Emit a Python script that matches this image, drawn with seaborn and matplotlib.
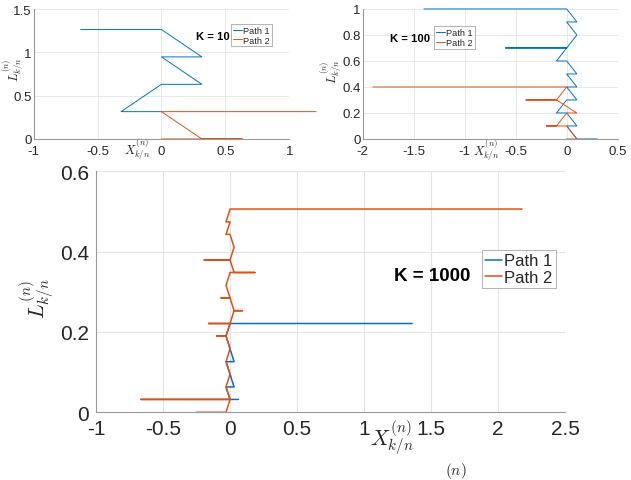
import numpy as np
import pandas as pd
import matplotlib
matplotlib.use("Agg")
import matplotlib.pyplot as plt
import seaborn as sns

# K = 10
x1_k10 = [-0.632, 0, 0.316, 0, 0.316, 0, -0.316, 0]
l1_k10 = [1.265, 1.265, 0.949, 0.949, 0.632, 0.632, 0.316, 0.316]
x2_k10 = [0, 0.632, 0.316, 0, 1.21]
l2_k10 = [0, 0, 0, 0.316, 0.316]

# K = 100
x1_k100 = [-1.4, 0, 0.1, 0, 0.1, 0, -0.6, 0, -0.1, 0, 0.1, 0, 0.1, 0, 0.1, 0,
           -0.1, 0, 0.1, 0, 0.1, 0.3]
l1_k100 = [1.0, 1.0, 0.9, 0.9, 0.8, 0.7, 0.7, 0.7, 0.6, 0.6, 0.5, 0.5, 0.4, 0.4,
           0.3, 0.3, 0.2, 0.2, 0.1, 0.1, 0.0, 0.0]
x2_k100 = [-1.9, 0, -0.1, -0.4, -0.1, 0.1, 0, -0.1, -0.2, 0, 0.1, 0]
l2_k100 = [0.4, 0.4, 0.3, 0.3, 0.3, 0.2, 0.2, 0.1, 0.1, 0.1, 0.0, 0.0]

# K = 1000
x1_k1000 = [0.063, 0, -0.03, 0.03, 0, -0.03, 0.03, 0, -0.03, 0, 1.358]
l1_k1000 = [0.032, 0.032, 0.063, 0.063, 0.095, 0.126, 0.126, 0.158, 0.19, 0.221, 0.221]
x2_k1000 = [-0.25, -0.03, 0, -0.665, 0, -0.03, 0, -0.03, 0, -0.03, -0.1, -0.03,
            0, -0.16, 0, 0.03, 0.092, 0.03, 0, -0.067, 0, -0.03, 0, 0.186, 0.03,
            0, -0.193, 0, 0.03, 0, -0.03, 0, -0.03, 0, 2.177]
l2_k1000 = [0, 0, 0.032, 0.032, 0.032, 0.063, 0.095, 0.126, 0.158, 0.19, 0.19, 0.19,
            0.221, 0.221, 0.221, 0.253, 0.253, 0.253, 0.285, 0.285, 0.285, 0.316, 0.348,
            0.348, 0.348, 0.379, 0.379, 0.379, 0.411, 0.443, 0.443, 0.474, 0.474, 0.506,
            0.506]

series_names = ["Path 1", "Path 2"]
k_labels = ["K = 10", "K = 100", "K = 1000"]

xticks_k10 = [-1, -0.5, 0, 0.5, 1]
xticklabels_k10 = ["-1", "-0.5", "0", "0.5", "1"]
yticks_k10 = [0, 0.5, 1, 1.5]
yticklabels_k10 = ["0", "0.5", "1", "1.5"]

xticks_k100 = [-2, -1.5, -1, -0.5, 0, 0.5]
xticklabels_k100 = ["-2", "-1.5", "-1", "-0.5", "0", "0.5"]
yticks_k100 = [0, 0.2, 0.4, 0.6, 0.8, 1]
yticklabels_k100 = ["0", "0.2", "0.4", "0.6", "0.8", "1"]

xticks_k1000 = [-1, -0.5, 0, 0.5, 1, 1.5, 2, 2.5]
xticklabels_k1000 = ["-1", "-0.5", "0", "0.5", "1", "1.5", "2", "2.5"]
yticks_k1000 = [0, 0.2, 0.4, 0.6]
yticklabels_k1000 = ["0", "0.2", "0.4", "0.6"]

blue = "#0072BD"
orange = "#D95319"
axis_gray = "#9a9a9a"

sns.set_style("white")
plt.rcParams["font.family"] = ["Liberation Sans", "DejaVu Sans"]
plt.rcParams["mathtext.fontset"] = "cm"

fig = plt.figure(figsize=(6.31, 4.81), dpi=100)
ax_a = fig.add_axes([0.0534, 0.709, 0.405, 0.2697])
ax_b = fig.add_axes([0.5748, 0.709, 0.4041, 0.2703])
ax_c = fig.add_axes([0.1521, 0.1408, 0.7437, 0.501])

ylab = r"$L^{(n)}_{k/n}$"
xlab = r"$X^{(n)}_{k/n}$"

panels = [
    (ax_a, x1_k10, l1_k10, x2_k10, l2_k10, (-1, 1), (0, 1.5), xticks_k10, xticklabels_k10,
     yticks_k10, yticklabels_k10, k_labels[0], 0.7, 9.5, 9, 6.6,
     (0.635, 0.794), (0.772, 0.887), (0.404, -0.07), (-0.08, 0.54), 3),
    (ax_b, x1_k100, l1_k100, x2_k100, l2_k100, (-2, 0.5), (0, 1), xticks_k100, xticklabels_k100,
     yticks_k100, yticklabels_k100, k_labels[1], 0.7, 9.5, 9, 6.6,
     (0.107, 0.777), (0.28, 0.869), (0.483, -0.077), (-0.125, 0.523), 3),
    (ax_c, x1_k1000, l1_k1000, x2_k1000, l2_k1000, (-1, 2.5), (0, 0.6), xticks_k1000,
     xticklabels_k1000, yticks_k1000, yticklabels_k1000, k_labels[2], 1.1, 15, 15.5, 12,
     (0.635, 0.566), (0.8225, 0.673), (0.631, -0.102), (-0.126, 0.474), 4),
]

for (ax, xa, la, xb, lb, xlim, ylim, xt, xtl, yt, ytl, ktxt, lw, tfs, lfs, legfs,
     kpos, legpos, xlpos, ylpos, tlen) in panels:
    small = tfs < 12
    df1 = pd.DataFrame({"X": xa, "L": la})
    df2 = pd.DataFrame({"X": xb, "L": lb})
    sns.lineplot(data=df1, x="X", y="L", sort=False, estimator=None, color=blue,
                 lw=lw, label=series_names[0], ax=ax, clip_on=False)
    sns.lineplot(data=df2, x="X", y="L", sort=False, estimator=None, color=orange,
                 lw=lw, label=series_names[1], ax=ax, clip_on=False)
    ax.set_xlim(*xlim)
    ax.set_ylim(*ylim)
    ax.set_xticks(xt)
    ax.set_xticklabels(xtl)
    ax.set_yticks(yt)
    ax.set_yticklabels(ytl)
    ax.grid(True, color="#e4e4e4", lw=0.6 if small else 0.8)
    ax.set_axisbelow(True)
    for s in ["top", "right"]:
        ax.spines[s].set_visible(False)
    for s in ["left", "bottom"]:
        ax.spines[s].set_color(axis_gray)
        ax.spines[s].set_linewidth(0.8)
    ax.tick_params(direction="in", length=tlen, width=0.6, color=axis_gray,
                   labelsize=tfs, labelcolor="#262626")
    ax.tick_params(axis="x", pad=4.5 if small else 5)
    ax.tick_params(axis="y", pad=1.5 if small else 5)
    ax.set_xlabel(xlab, fontsize=lfs, color="#262626")
    ax.xaxis.set_label_coords(*xlpos)
    ax.xaxis.label.set_va("center")
    ax.set_ylabel(ylab, fontsize=lfs, color="#262626")
    ax.yaxis.set_label_coords(*ylpos)
    ax.yaxis.label.set_va("center")
    ax.text(kpos[0], kpos[1], ktxt, transform=ax.transAxes, fontsize=legfs + 1.5,
            fontweight="bold", ha="left", va="center", color="black")
    leg = ax.legend(loc="upper left", bbox_to_anchor=legpos, borderaxespad=0,
                    fontsize=legfs, frameon=True, fancybox=False, handlelength=1.0,
                    handletextpad=0.15, borderpad=0.2, labelspacing=0.1)
    leg.get_frame().set_edgecolor("#a0a0a0")
    leg.get_frame().set_linewidth(0.7)

# top of a label that sits at the bottom edge of the figure
fig.text(0.722, 0.0, r"$(n)$", fontsize=11, color="#262626", ha="center", va="bottom")

fig.savefig("out.png", dpi=100)
